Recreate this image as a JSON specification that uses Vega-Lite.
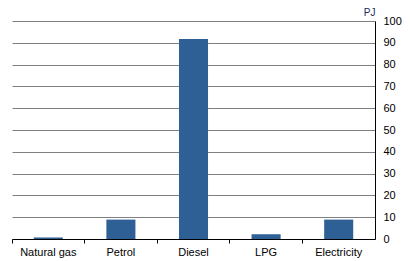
{
  "$schema": "https://vega.github.io/schema/vega-lite/v6.json",
  "width": 363,
  "height": 218,
  "autosize": {"type": "none"},
  "padding": {"left": 12, "top": 21, "right": 35, "bottom": 22},
  "background": "white",
  "data": {
    "values": [
      {"fuel": "Natural gas", "pj": 0.7},
      {"fuel": "Petrol", "pj": 8.9},
      {"fuel": "Diesel", "pj": 91.8},
      {"fuel": "LPG", "pj": 2.2},
      {"fuel": "Electricity", "pj": 8.9}
    ]
  },
  "config": {
    "view": {"stroke": null},
    "font": "Liberation Sans"
  },
  "mark": {"type": "bar", "color": "#2E5F95", "width": {"band": 0.4}},
  "encoding": {
    "x": {
      "field": "fuel",
      "type": "nominal",
      "sort": null,
      "scale": {"paddingInner": 0, "paddingOuter": 0},
      "axis": {
        "title": null,
        "labelAngle": 0,
        "labelFont": "Liberation Sans",
        "labelFontSize": 11,
        "labelColor": "#000000",
        "labelPadding": 3,
        "bandPosition": 0,
        "ticks": true,
        "tickSize": 4,
        "tickColor": "#000000",
        "domainColor": "#000000",
        "grid": false,
        "zindex": 1
      }
    },
    "y": {
      "field": "pj",
      "type": "quantitative",
      "scale": {"domain": [0, 100], "nice": false},
      "axis": {
        "orient": "right",
        "values": [0, 10, 20, 30, 40, 50, 60, 70, 80, 90, 100],
        "title": "PJ",
        "titleAngle": 0,
        "titleX": 0,
        "titleY": -6,
        "titleAlign": "right",
        "titleBaseline": "alphabetic",
        "titleFont": "Liberation Sans",
        "titleFontSize": 10,
        "titleFontWeight": "normal",
        "titleColor": "#1a2b5f",
        "labelFont": "Liberation Sans",
        "labelFontSize": 11,
        "labelColor": "#000000",
        "labelPadding": 8,
        "ticks": false,
        "domainColor": "#000000",
        "grid": true,
        "gridColor": "#808080",
        "gridWidth": 1
      }
    }
  }
}
